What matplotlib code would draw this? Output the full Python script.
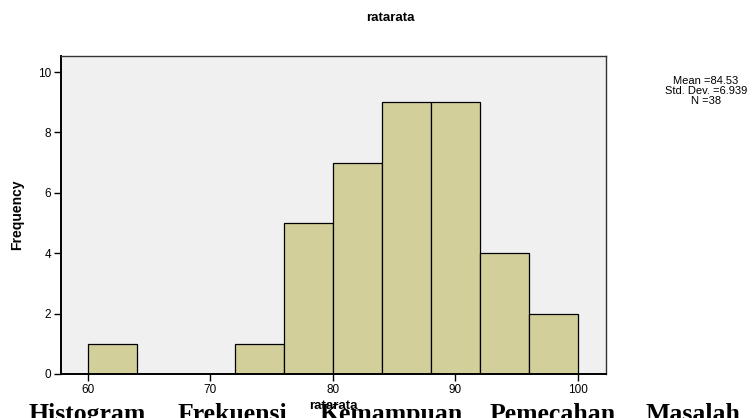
import numpy as np
import matplotlib.pyplot as plt

plt.rcParams['font.family'] = ['Liberation Sans', 'DejaVu Sans']

# data
bin_left = [60, 64, 68, 72, 76, 80, 84, 88, 92, 96]
bin_width = 4
counts = [1, 0, 0, 1, 5, 7, 9, 9, 4, 2]
x_ticks = [60, 70, 80, 90, 100]
y_ticks = [0, 2, 4, 6, 8, 10]
stats = ["Mean =84.53", "Std. Dev. =6.939", "N =38"]
caption_words = ["Histogram", "Frekuensi", "Kemampuan", "Pemecahan", "Masalah"]
caption_x = [28, 178, 320, 490, 645]

fig = plt.figure(figsize=(7.55, 4.18), dpi=100)
ax = fig.add_axes([61 / 755, 1 - 374 / 418, 545 / 755, 318 / 418])
ax.set_facecolor('#f0f0f0')

ax.bar(bin_left, counts, width=bin_width, align='edge',
       color='#d3cf9b', edgecolor='black', linewidth=0.9, zorder=2)

ax.set_xlim(57.8, 102.3)
ax.set_ylim(0, 10.53)
ax.set_xticks(x_ticks)
ax.set_yticks(y_ticks)
ax.tick_params(direction='out', length=5, width=1, labelsize=8.5, pad=2)

for s in ['left', 'bottom']:
    ax.spines[s].set_linewidth(1.4)
for s in ['top', 'right']:
    ax.spines[s].set_linewidth(1.0)
    ax.spines[s].set_color('#333333')

ax.set_xlabel("ratarata", fontsize=9.5, fontweight='bold', labelpad=3)
ax.set_ylabel("Frequency", fontsize=10, fontweight='bold', labelpad=10)
fig.text(390 / 755, 1 - 18 / 418, "ratarata", ha='center', va='center',
         fontsize=9.5, fontweight='bold')

fig.text(706 / 755, 1 - 91 / 418, "\n".join(stats), ha='center', va='center',
         fontsize=8, linespacing=1.0)

# document caption cut off at the bottom of the screenshot
for w, xp in zip(caption_words, caption_x):
    fig.text(xp / 755, -3 / 418, w, ha='left', va='baseline',
             fontsize=18.5, fontweight='bold',
             family=['Liberation Serif', 'DejaVu Serif'])

fig.savefig("out.png", dpi=100)
